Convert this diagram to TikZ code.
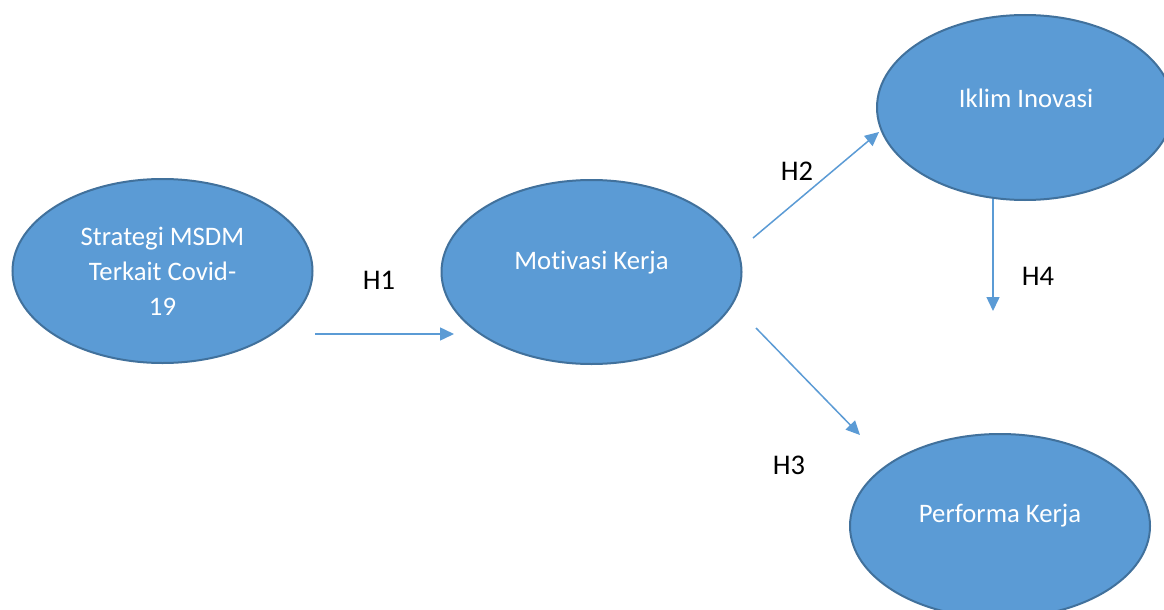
\documentclass[tikz,border=0pt]{standalone}
\usepackage{fontspec}
\setmainfont[Ligatures=NoCommon]{Carlito}
\usetikzlibrary{shapes.geometric,arrows.meta}
\definecolor{fillblue}{HTML}{5B9BD5}
\definecolor{edgeblue}{HTML}{41719C}
\tikzset{
  bubble/.style={ellipse, draw=edgeblue, fill=fillblue, line width=2pt,
    minimum width=300pt, minimum height=184pt, inner sep=0pt},
  bubbletext/.style={text=white, font=\fontsize{26.7}{35}\selectfont, align=center, inner sep=0pt},
  hlabel/.style={text=black, font=\fontsize{28.5}{32}\selectfont, inner sep=0pt},
  link/.style={draw=fillblue, line width=1.5pt, -{Triangle[length=14pt,width=13pt]}}
}
\begin{document}
\begin{tikzpicture}[x=1pt,y=-1pt]
\useasboundingbox (0,0) rectangle (1164,610);
\clip (0,0) rectangle (1164,610);
\fill[white] (0,0) rectangle (1164,610);
% ellipses
\node[bubble] (strat) at (162.5,271) {};
\node[bubble] (motiv) at (591.5,272) {};
\node[bubble, minimum width=296pt, minimum height=185pt] (iklim) at (1025,107.5) {};
\node[bubble] (perf) at (1000,526) {};
% texts
\node[bubbletext] (strattxt) at (162.5,271.5) {Strategi MSDM\\Terkait Covid-\\19};
\node[bubbletext] (motivtxt) at (591.5,262.5) {Motivasi Kerja};
\node[bubbletext] (iklimtxt) at (1026,98.5) {Iklim Inovasi};
\node[bubbletext] (perftxt) at (1000,516) {Performa Kerja};
% connector end points
\coordinate (a1) at (315,334);
\coordinate (b1) at (454,334);
\coordinate (a2) at (753,238);
\coordinate (b2) at (879,132);
\coordinate (a3) at (756,328);
\coordinate (b3) at (860,435);
\coordinate (a4) at (993,199);
\coordinate (b4) at (993,311);
\draw[link] (a1) -- (b1);
\draw[link] (a2) -- (b2);
\draw[link] (a3) -- (b3);
\draw[link] (a4) -- (b4);
% labels
\node[hlabel] (h1) at (379,280) {H1};
\node[hlabel] (h2) at (797,171) {H2};
\node[hlabel] (h3) at (789,465) {H3};
\node[hlabel] (h4) at (1038,276) {H4};
\end{tikzpicture}
\end{document}
